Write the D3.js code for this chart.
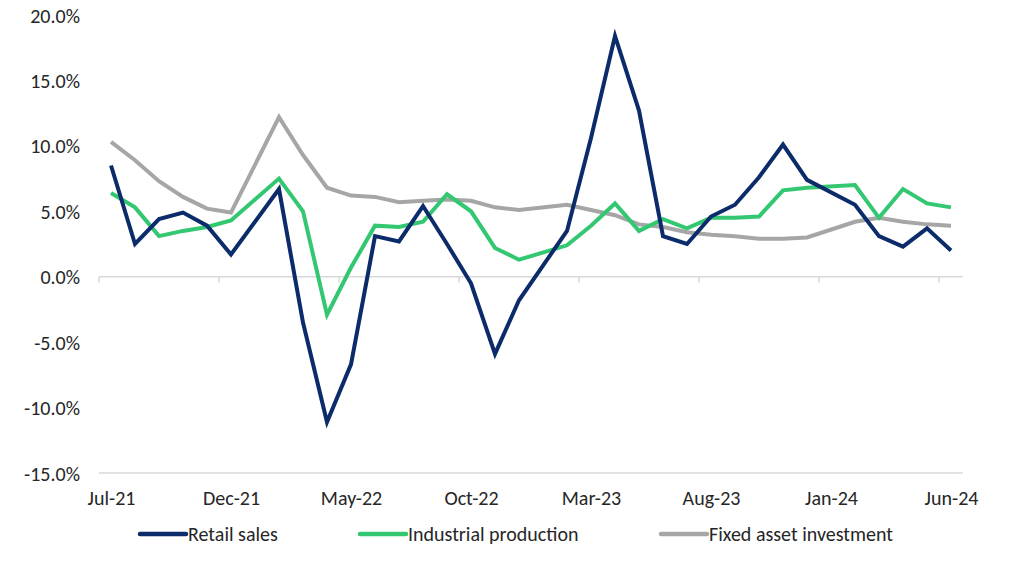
<!DOCTYPE html>
<html>
<head>
<meta charset="utf-8">
<script src="https://cdn.jsdelivr.net/npm/d3@7"></script>
<style>
  html, body { margin: 0; padding: 0; background: #ffffff; }
  svg { display: block; }
  text { font-family: Carlito, Lato, "Open Sans", sans-serif; fill: #262626; }
</style>
</head>
<body>
<svg id="chart" width="1024" height="561"></svg>
<script>
const months = [
  "Jul-21","Aug-21","Sep-21","Oct-21","Nov-21","Dec-21",
  "Jan-22","Feb-22","Mar-22","Apr-22","May-22","Jun-22",
  "Jul-22","Aug-22","Sep-22","Oct-22","Nov-22","Dec-22",
  "Jan-23","Feb-23","Mar-23","Apr-23","May-23","Jun-23",
  "Jul-23","Aug-23","Sep-23","Oct-23","Nov-23","Dec-23",
  "Jan-24","Feb-24","Mar-24","Apr-24","May-24","Jun-24"
];
const retailSales = [
  8.5, 2.5, 4.4, 4.9, 3.9, 1.7,
  null, 6.7, -3.5, -11.1, -6.7, 3.1,
  2.7, 5.4, 2.5, -0.5, -5.9, -1.8,
  null, 3.5, 10.6, 18.4, 12.7, 3.1,
  2.5, 4.6, 5.5, 7.6, 10.1, 7.4,
  null, 5.5, 3.1, 2.3, 3.7, 2.0
];
const industrialProduction = [
  6.4, 5.3, 3.1, 3.5, 3.8, 4.3,
  null, 7.5, 5.0, -2.9, 0.7, 3.9,
  3.8, 4.2, 6.3, 5.0, 2.2, 1.3,
  null, 2.4, 3.9, 5.6, 3.5, 4.4,
  3.7, 4.5, 4.5, 4.6, 6.6, 6.8,
  null, 7.0, 4.5, 6.7, 5.6, 5.3
];
const fixedAssetInvestment = [
  10.3, 8.9, 7.3, 6.1, 5.2, 4.9,
  null, 12.2, 9.3, 6.8, 6.2, 6.1,
  5.7, 5.8, 5.9, 5.8, 5.3, 5.1,
  null, 5.5, 5.1, 4.7, 4.0, 3.8,
  3.4, 3.2, 3.1, 2.9, 2.9, 3.0,
  null, 4.2, 4.5, 4.2, 4.0, 3.9
];
const seriesNames = ["Retail sales", "Industrial production", "Fixed asset investment"];
const seriesColors = ["#0b2b6a", "#33c772", "#a6a6a6"];
const xTickLabels = ["Jul-21","Dec-21","May-22","Oct-22","Mar-23","Aug-23","Jan-24","Jun-24"];
const yTicks = [20, 15, 10, 5, 0, -5, -10, -15];

const svg = d3.select("#chart");
const fontSize = 20;

const x = d3.scaleBand().domain(months).range([99, 963]).padding(0);
const xc = d => x(d) + x.bandwidth() / 2;
const y = d3.scaleLinear().domain([-15, 20]).range([473, 15]);

// horizontal lines: zero axis and bottom
svg.append("line")
  .attr("x1", 99).attr("x2", 963)
  .attr("y1", y(0)).attr("y2", y(0))
  .attr("stroke", "#d9d9d9").attr("stroke-width", 1.5);
svg.append("line")
  .attr("x1", 99).attr("x2", 963)
  .attr("y1", y(-15)).attr("y2", y(-15))
  .attr("stroke", "#d9d9d9").attr("stroke-width", 1.5);

// tick marks at category boundaries every 5 categories
svg.selectAll("line.xtick")
  .data(xTickLabels)
  .enter().append("line")
  .attr("class", "xtick")
  .attr("x1", d => x(d)).attr("x2", d => x(d))
  .attr("y1", y(0)).attr("y2", y(0) + 6)
  .attr("stroke", "#d9d9d9").attr("stroke-width", 1.5);

// y axis labels
const yAxis = d3.axisLeft(y)
  .tickValues(yTicks)
  .tickSize(0)
  .tickPadding(0)
  .tickFormat(v => v.toFixed(1) + "%");
const gy = svg.append("g").attr("transform", "translate(80,0)").call(yAxis);
gy.select(".domain").remove();
gy.selectAll("text")
  .attr("font-size", fontSize)
  .attr("font-family", null)
  .attr("dy", "0.35em")
  .style("fill", "#262626");

// x axis labels
const xAxis = d3.axisBottom(d3.scalePoint().domain(months).range([xc(months[0]), xc(months[months.length - 1])]))
  .tickValues(xTickLabels)
  .tickSize(0)
  .tickPadding(0);
const gx = svg.append("g").attr("transform", "translate(0,498)").call(xAxis);
gx.select(".domain").remove();
gx.selectAll("text")
  .attr("font-size", fontSize)
  .attr("font-family", null)
  .attr("dy", "0.35em")
  .style("fill", "#262626");

// lines
const allSeries = [retailSales, industrialProduction, fixedAssetInvestment];
const drawOrder = [2, 1, 0];
const line = d3.line()
  .x(d => xc(d.m))
  .y(d => y(d.v))
  .curve(d3.curveLinear);

drawOrder.forEach(si => {
  const pts = months.map((m, i) => ({ m, v: allSeries[si][i] })).filter(d => d.v !== null);
  svg.append("path")
    .datum(pts)
    .attr("d", line)
    .attr("fill", "none")
    .attr("stroke", seriesColors[si])
    .attr("stroke-width", 4)
    .attr("stroke-linejoin", "miter")
    .attr("stroke-linecap", "butt");
});

// legend
const legendX = [140, 360, 661];
const legendY = 534;
seriesNames.forEach((name, i) => {
  svg.append("line")
    .attr("x1", legendX[i]).attr("x2", legendX[i] + 46)
    .attr("y1", legendY).attr("y2", legendY)
    .attr("stroke", seriesColors[i]).attr("stroke-width", 4.5)
    .attr("stroke-linecap", "round");
  svg.append("text")
    .attr("x", legendX[i] + 48)
    .attr("y", legendY)
    .attr("dy", "0.35em")
    .attr("font-size", fontSize)
    .text(name);
});
</script>
</body>
</html>
